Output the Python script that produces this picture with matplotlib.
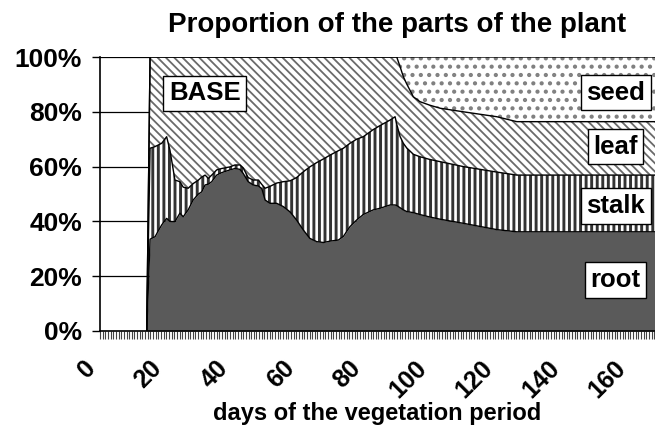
import numpy as np
import matplotlib
matplotlib.use("Agg")
import matplotlib.pyplot as plt
import matplotlib.transforms as mtransforms

plt.rcParams['font.family'] = ['Liberation Sans', 'DejaVu Sans']
plt.rcParams['font.weight'] = 'bold'

# days and share of each part of the plant (%)
days = [14.1, 15.1, 16.6, 18.6, 20.1, 21.1, 22.6, 24.1, 25.1, 26.6, 28.1, 29.7,
        30.7, 31.7, 32.7, 33.7, 35.2, 36.7, 39.2, 40.7, 42.2, 43.2, 44.7, 46.2,
        47.8, 48.8, 49.8, 51.3, 53.3, 55.3, 57.3, 59.3, 61.3, 63.3, 65.4, 67.4,
        69.4, 71.9, 73.4, 75.4, 77.4, 79.4, 82.4, 84.5, 87.5, 89.0, 89.5, 90.5,
        91.5, 92.5, 94.5, 96.5, 99.5, 102.6, 109.6, 119.7, 125.7, 170.0]
root = [0, 33.5, 34.4, 38.7, 41.1, 40.0, 39.9, 43.0, 41.7, 44.2, 47.8, 50.0,
        50.8, 53.3, 53.6, 54.5, 56.9, 57.8, 58.8, 59.3, 59.0, 57.5, 54.5, 53.3,
        52.9, 52.0, 47.8, 46.6, 46.6, 45.4, 43.5, 40.5, 36.9, 33.8, 32.6, 32.3,
        32.8, 33.2, 34.5, 38.1, 40.5, 42.5, 44.2, 44.8, 46.0, 46.0, 45.8, 45.0,
        44.2, 43.6, 43.2, 42.5, 41.6, 40.8, 39.3, 37.0, 36.2, 36.2]
stalk = [0, 33.2, 32.9, 29.8, 29.8, 26.0, 15.2, 11.5, 10.8, 7.9, 6.0, 5.1,
         5.4, 3.6, 2.1, 2.4, 1.9, 1.5, 1.1, 1.3, 1.6, 2.0, 1.5, 1.8,
         2.2, 1.5, 4.3, 6.2, 7.4, 9.1, 11.3, 15.5, 21.2, 26.1, 28.9, 30.5,
         31.4, 32.6, 32.2, 30.4, 29.5, 28.4, 29.3, 30.2, 31.0, 32.2, 29.7, 26.0,
         24.3, 23.2, 21.3, 21.1, 21.0, 21.0, 20.7, 21.0, 20.7, 20.7]
leaf = [0, 33.3, 32.7, 31.5, 29.1, 34.0, 44.9, 45.5, 47.5, 47.9, 46.2, 44.9,
        43.8, 43.1, 44.3, 43.1, 41.2, 40.7, 40.1, 39.4, 39.4, 40.5, 44.0, 44.9,
        44.9, 46.5, 47.9, 47.2, 46.0, 45.5, 45.2, 44.0, 41.9, 40.1, 38.5, 37.2,
        35.8, 34.2, 33.3, 31.5, 30.0, 29.1, 26.5, 25.0, 23.0, 21.8, 24.5, 25.5,
        24.3, 23.4, 21.0, 20.1, 19.8, 19.5, 20.0, 20.2, 19.5, 19.5]
seed = [0, 0, 0, 0, 0, 0, 0, 0, 0, 0, 0, 0,
        0, 0, 0, 0, 0, 0, 0, 0, 0, 0, 0, 0,
        0, 0, 0, 0, 0, 0, 0, 0, 0, 0, 0, 0,
        0, 0, 0, 0, 0, 0, 0, 0, 0, 0, 0, 3.5,
        7.2, 9.8, 14.5, 16.3, 17.6, 18.7, 20.0, 21.8, 23.6, 23.6]

parts = ['root', 'stalk', 'leaf', 'seed']
# face colour, hatch, hatch colour, hatch width
styles = [('#5a5a5a', None, '#5a5a5a', 1.0),
          ('white', '|||', '#333333', 2.1),
          ('white', '\\\\\\\\', '#6a6a6a', 1.3),
          ('white', '..', '#808080', 1.8)]

fig = plt.figure(figsize=(6.55, 4.48), dpi=100)
ax = fig.add_axes([100/655, 117/448, 555/655, 274/448])

x = np.array(days)
shares = np.array([root, stalk, leaf, seed])
tops = np.cumsum(shares, axis=0)
bottom = np.zeros_like(x)
for top, (fc, hatch, hc, hw) in zip(tops, styles):
    poly = ax.fill_between(x, bottom, top, facecolor=fc, hatch=hatch,
                           edgecolor=hc, linewidth=0, zorder=2)
    if hatch:
        poly.set_hatch_linewidth(hw)
    ax.plot(x, top, color='black', lw=1.0, zorder=3)
    bottom = top

ax.set_xlim(0, 167.4)
ax.set_ylim(0, 100)
ax.set_axisbelow(True)
ax.yaxis.grid(True, color='black', lw=0.9)
ax.set_yticks(range(0, 101, 20))
ax.set_yticklabels([f'{v}%' for v in range(0, 101, 20)], fontsize=19)
ax.set_xticks(range(0, 161, 20))
ax.set_xticks(np.arange(0, 167.4, 0.8), minor=True)
ax.set_xticklabels([str(v) for v in range(0, 161, 20)], fontsize=18,
                   rotation=45, ha='right', va='top')
shift = mtransforms.ScaledTranslation(-5/100, 0, fig.dpi_scale_trans)
for lbl in ax.get_xticklabels():
    lbl.set_transform(lbl.get_transform() + shift)
ax.tick_params(axis='y', length=6, width=1, pad=7)
ax.tick_params(axis='x', which='both', length=6, width=0.8, color='#444444', pad=12)
for side in ['top', 'right']:
    ax.spines[side].set_visible(False)
ax.spines['left'].set_linewidth(1.2)
ax.spines['bottom'].set_linewidth(1.2)

ax.set_xlabel('days of the vegetation period', fontsize=17,
              fontweight='bold', labelpad=0)
fig.text(397/655, 416/448, 'Proportion of the parts of the plant',
         fontsize=20, ha='center', va='baseline')

box = dict(boxstyle='square,pad=0.22', facecolor='white', edgecolor='black', lw=1)
ax.text(0.189, 0.867, 'BASE', transform=ax.transAxes, fontsize=18.5,
        ha='center', va='center', bbox=box, zorder=5)
label_pos = [0.186, 0.456, 0.673, 0.870]
for name, yp in zip(parts, label_pos):
    ax.text(0.929, yp, name, transform=ax.transAxes, fontsize=18.5,
            ha='center', va='center', bbox=box, zorder=5)

fig.savefig('out.png', dpi=100)
